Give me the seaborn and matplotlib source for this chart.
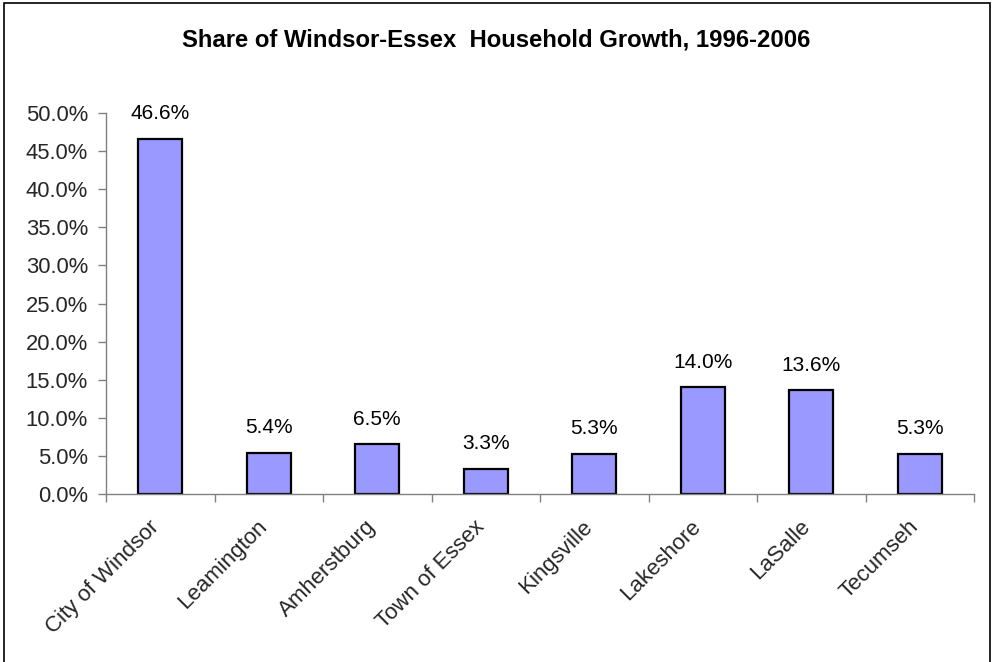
import matplotlib
matplotlib.use("Agg")
import matplotlib.pyplot as plt
import matplotlib.transforms as mtransforms
import seaborn as sns
import pandas as pd
from matplotlib.patches import Rectangle
from matplotlib.ticker import FuncFormatter, FixedLocator

categories = ["City of Windsor", "Leamington", "Amherstburg", "Town of Essex",
              "Kingsville", "Lakeshore", "LaSalle", "Tecumseh"]
values = [46.6, 5.4, 6.5, 3.3, 5.3, 14.0, 13.6, 5.3]
title = "Share of Windsor-Essex  Household Growth, 1996-2006"

sns.set_theme(style="white")
plt.rcParams['font.family'] = ['Liberation Sans', 'DejaVu Sans']

df = pd.DataFrame({"area": categories, "share": values})

fig = plt.figure(figsize=(9.92, 6.62), dpi=100)
ax = fig.add_axes([106/992, 1-494/662, (974-106)/992, (494-113)/662])

sns.barplot(data=df, x="area", y="share", ax=ax, color="#9999FF",
            saturation=1, width=0.405, edgecolor="black", linewidth=1.6)

ax.set_ylim(0, 50)
ax.set_xlim(-0.5, len(categories)-0.5)
ax.set_yticks([i*5 for i in range(11)])
ax.yaxis.set_major_formatter(FuncFormatter(lambda v, p: f"{v:.1f}%"))
ax.set_xlabel("")
ax.set_ylabel("")

for s in ["top", "right"]:
    ax.spines[s].set_visible(False)
for s in ["left", "bottom"]:
    ax.spines[s].set_color("#808080")
    ax.spines[s].set_linewidth(1.0)

ax.tick_params(axis="y", which="major", direction="out", length=6, width=1,
               color="#808080", labelsize=15.8, pad=7, left=True)
ax.tick_params(axis="x", which="major", length=0, labelsize=16, pad=16)
ax.xaxis.set_minor_locator(FixedLocator([i-0.5 for i in range(len(categories)+1)]))
ax.tick_params(axis="x", which="minor", direction="out", length=6, width=1,
               color="#808080", bottom=True)
shift = mtransforms.ScaledTranslation(-12/100, 0, fig.dpi_scale_trans)
for lbl in ax.get_xticklabels():
    lbl.set_rotation(45)
    lbl.set_ha("right")
    lbl.set_rotation_mode("anchor")
    lbl.set_transform(lbl.get_transform() + shift)

for i, v in enumerate(values):
    ax.annotate(f"{v:.1f}%", xy=(i, v), xytext=(0, 18), textcoords="offset points",
                ha="center", va="center", fontsize=15, color="black")

fig.text(0.5, 1-40/662, title, ha="center", va="center", fontsize=17.2,
         fontweight="bold", color="black")

fig.patches.append(Rectangle((4/992, -0.05), (990-4)/992, 1.05-3/662,
                             transform=fig.transFigure, fill=False,
                             edgecolor="black", linewidth=1.2))

fig.savefig("out.png", dpi=100)
